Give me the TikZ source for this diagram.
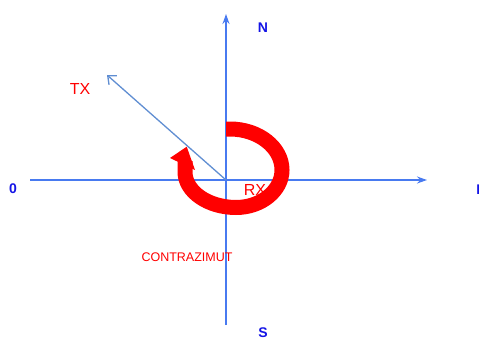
\documentclass[tikz,border=0pt]{standalone}
\usepackage{fontspec}
\setmainfont{Liberation Sans}
\usetikzlibrary{arrows.meta}
\definecolor{axisblue}{RGB}{72,122,240}
\definecolor{txblue}{RGB}{96,142,210}
\definecolor{lblblue}{RGB}{20,20,230}
\definecolor{arcred}{RGB}{255,0,0}
\tikzset{
  axis/.style={axisblue, line width=1.8pt},
  axislbl/.style={text=lblblue, font=\bfseries\fontsize{14}{14}\selectfont, inner sep=0pt},
  redlbl/.style={text=arcred, inner sep=0pt},
}
\begin{document}
\begin{tikzpicture}[x=1pt,y=1pt]
\useasboundingbox (0,0) rectangle (479,338);
% axes
\coordinate (W) at (30,158);
\coordinate (E) at (427,158);
\coordinate (S) at (226,13);
\coordinate (N) at (226,324);
\coordinate (O) at (226,158);
\draw[axis] (W) -- (O);
\draw[axis, -{Stealth[length=10pt,width=7pt]}] (O) -- (E);
\draw[axis] (S) -- (O);
\draw[axis, -{Stealth[length=10pt,width=7pt]}] (O) -- (N);
% TX arrow
\coordinate (TXend) at (107,263);
\draw[txblue, line width=1.3pt, -{Straight Barb[length=7pt,width=12pt]}] (O) -- (TXend);
% red curved arrow (pixel y -> 338-y)
\draw[arcred, line width=15pt] (226,209) -- (230,209)
  .. controls (258.6,209) and (282,190.6) .. (282,168)
  .. controls (282,147.4) and (261.3,130.5) .. (236,130.5)
  .. controls (208,130.5) and (185,146.5) .. (185,166) -- (185,177);
\fill[arcred] (186.7,191.3) -- (170,180) -- (195,168) -- cycle;
% labels
\node[axislbl] (nN) at (263,310) {N};
\node[axislbl] (nS) at (263,5) {S};
\node[axislbl] (n0) at (13,149) {0};
\node[axislbl] (nE) at (481,148) {E};
\node[redlbl, font=\fontsize{16}{16}\selectfont] (tx) at (80,249) {TX};
\node[redlbl, font=\fontsize{16}{16}\selectfont] (rx) at (255,148) {RX};
\node[redlbl, font=\fontsize{12.5}{12.5}\selectfont] (ca) at (187,81) {CONTRAZIMUT};
\end{tikzpicture}
\end{document}
